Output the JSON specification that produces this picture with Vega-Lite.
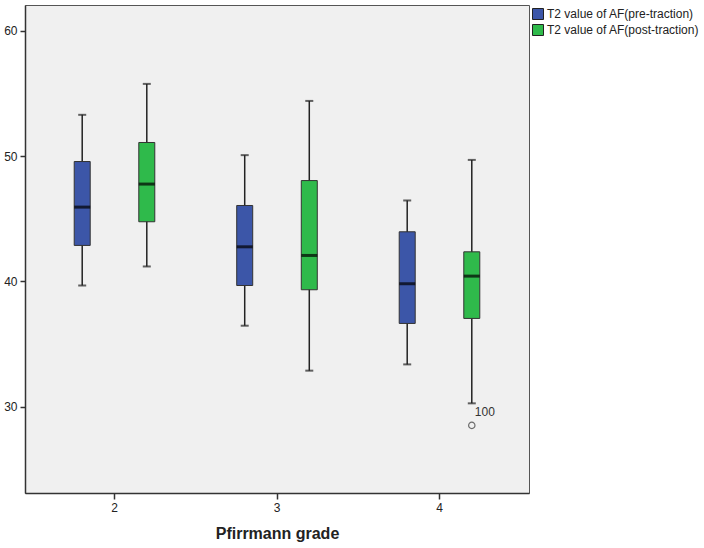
{
  "$schema": "https://vega.github.io/schema/vega-lite/v6.json",
  "width": 504,
  "height": 488,
  "autosize": {"type": "none"},
  "padding": {"left": 25, "top": 5, "right": 175, "bottom": 55},
  "background": "white",
  "config": {
    "view": {"fill": "#f0f0f0", "stroke": "#555", "strokeWidth": 1},
    "font": "Liberation Sans",
    "axis": {
      "domainColor": "#333", "domainWidth": 1.5, "tickColor": "#333", "tickWidth": 1.5,
      "tickSize": 5, "labelColor": "#222", "labelFont": "Liberation Sans", "labelFontSize": 12,
      "grid": false
    },
    "legend": {
      "labelFont": "Liberation Sans", "labelFontSize": 12, "labelColor": "#222", "labelLimit": 0,
      "symbolType": "square", "symbolSize": 121, "symbolStrokeColor": "#222",
      "symbolStrokeWidth": 1, "symbolOpacity": 1, "rowPadding": 0, "labelOffset": 3
    }
  },
  "datasets": {
    "boxes": [
      {"grade": "2", "series": "T2 value of AF(pre-traction)", "lower": 39.67, "q1": 42.87, "median": 45.93, "q3": 49.57, "upper": 53.3},
      {"grade": "2", "series": "T2 value of AF(post-traction)", "lower": 41.19, "q1": 44.76, "median": 47.77, "q3": 51.09, "upper": 55.77},
      {"grade": "3", "series": "T2 value of AF(pre-traction)", "lower": 36.46, "q1": 39.67, "median": 42.76, "q3": 46.06, "upper": 50.08},
      {"grade": "3", "series": "T2 value of AF(post-traction)", "lower": 32.87, "q1": 39.33, "median": 42.07, "q3": 48.05, "upper": 54.41},
      {"grade": "4", "series": "T2 value of AF(pre-traction)", "lower": 33.37, "q1": 36.64, "median": 39.81, "q3": 43.96, "upper": 46.46},
      {"grade": "4", "series": "T2 value of AF(post-traction)", "lower": 30.26, "q1": 37.04, "median": 40.42, "q3": 42.36, "upper": 49.7}
    ],
    "outliers": [
      {"grade": "4", "series": "T2 value of AF(post-traction)", "value": 28.5, "label": "100"}
    ]
  },
  "encoding": {
    "x": {
      "field": "grade", "type": "nominal",
      "scale": {"domain": ["2", "3", "4"], "paddingInner": 0, "paddingOuter": 0.0508},
      "axis": {"title": "Pfirrmann grade", "titleFont": "Liberation Sans", "titleFontSize": 16, "titleFontWeight": "bold", "titleColor": "#222", "titlePadding": 12, "labelAngle": 0, "labelPadding": 3, "tickSize": 6}
    },
    "xOffset": {
      "field": "series", "type": "nominal",
      "scale": {"domain": ["T2 value of AF(pre-traction)", "T2 value of AF(post-traction)"], "paddingInner": 0, "paddingOuter": 0.258}
    }
  },
  "layer": [
    {
      "data": {"name": "boxes"},
      "mark": {"type": "rule", "color": "#222", "strokeWidth": 1.5},
      "encoding": {
        "y": {"field": "lower", "type": "quantitative", "scale": {"domain": [23.1, 62.07], "nice": false, "zero": false},
              "axis": {"title": null, "values": [30, 40, 50, 60], "labelPadding": 3}},
        "y2": {"field": "upper"}
      }
    },
    {
      "data": {"name": "boxes"},
      "mark": {"type": "tick", "color": "#222", "size": 8, "thickness": 2, "orient": "horizontal"},
      "encoding": {"y": {"field": "upper", "type": "quantitative"}}
    },
    {
      "data": {"name": "boxes"},
      "mark": {"type": "tick", "color": "#222", "size": 8, "thickness": 2, "orient": "horizontal"},
      "encoding": {"y": {"field": "lower", "type": "quantitative"}}
    },
    {
      "data": {"name": "boxes"},
      "mark": {"type": "bar", "width": 16, "stroke": "#333", "strokeWidth": 1},
      "encoding": {
        "y": {"field": "q1", "type": "quantitative"},
        "y2": {"field": "q3"},
        "fill": {
          "field": "series", "type": "nominal",
          "scale": {"domain": ["T2 value of AF(pre-traction)", "T2 value of AF(post-traction)"], "range": ["#3c56a8", "#2fba4b"]},
          "legend": {"title": null, "orient": "none", "legendX": 507, "legendY": 3, "padding": 0}
        }
      }
    },
    {
      "data": {"name": "boxes"},
      "mark": {"type": "tick", "color": "#000", "size": 16, "thickness": 3, "orient": "horizontal"},
      "encoding": {"y": {"field": "median", "type": "quantitative"}}
    },
    {
      "data": {"name": "outliers"},
      "mark": {"type": "point", "shape": "circle", "filled": false, "color": "#333", "size": 40, "strokeWidth": 1.2},
      "encoding": {"y": {"field": "value", "type": "quantitative"}}
    },
    {
      "data": {"name": "outliers"},
      "mark": {"type": "text", "align": "left", "baseline": "middle", "dx": 3, "dy": -13, "fontSize": 12, "color": "#333", "font": "Liberation Sans"},
      "encoding": {"y": {"field": "value", "type": "quantitative"}, "text": {"field": "label"}}
    }
  ]
}
